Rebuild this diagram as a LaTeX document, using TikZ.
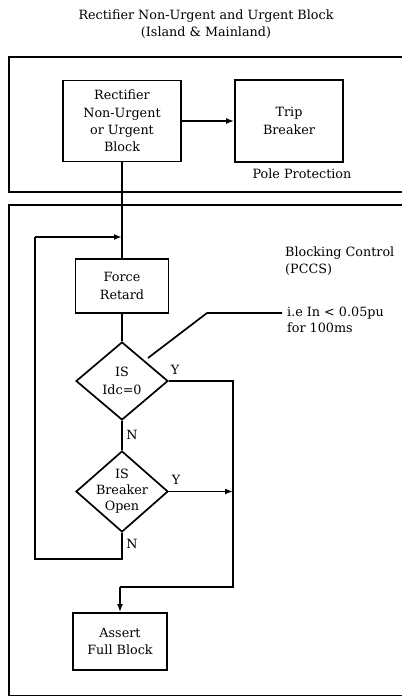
\documentclass[tikz,border=0pt]{standalone}
\usepackage{fontspec}
\setmainfont{DejaVu Serif}
\usetikzlibrary{shapes.geometric,arrows.meta}
\tikzset{
  box/.style={draw, line width=1.7bp, rectangle, align=center, inner sep=0pt, font=\fontsize{12.8}{17.5}\selectfont},
  dia/.style={draw, line width=1.7bp, diamond, inner sep=0pt},
  txt/.style={align=center, inner sep=0pt, font=\fontsize{12.8}{17.5}\selectfont},
  lbl/.style={inner sep=0pt, font=\fontsize{12.8}{17}\selectfont},
  conn/.style={line width=1.7bp},
  arr/.style={line width=1.7bp, -{Latex[length=8bp,width=6bp]}},
  frame/.style={line width=1.9bp}
}
\begin{document}
\begin{tikzpicture}[x=1bp,y=-1bp]
\useasboundingbox (0,0) rectangle (401,697);
% title
\node[txt, font=\fontsize{12.8}{17}\selectfont] (title) at (206,24) {Rectifier Non-Urgent and Urgent Block\\(Island \& Mainland)};
% frames
\draw[frame] (9,57) rectangle (410,192);
\draw[frame] (9,205) rectangle (410,695.5);
\node[lbl, anchor=center] (pp) at (302,174) {Pole Protection};
\node[lbl, anchor=west, align=left] (bc) at (285,261) {Blocking Control\\(PCCS)};
% boxes
\node[box, minimum width=118bp, minimum height=81bp] (rect) at (122,121) {Rectifier\\Non-Urgent\\or Urgent\\Block};
\node[box, minimum width=108bp, minimum height=82bp] (trip) at (289,121) {Trip\\Breaker};
\node[box, minimum width=93bp, minimum height=54bp] (force) at (122,286) {Force\\Retard};
\node[dia, minimum width=92bp, minimum height=78bp] (d1) at (122,381) {};
\node[txt] (d1t) at (d1) {IS\\Idc=0};
\node[dia, minimum width=92bp, minimum height=81bp] (d2) at (122,491.5) {};
\node[txt, font=\fontsize{12.8}{16}\selectfont] (d2t) at (d2) {IS\\Breaker\\Open};
\node[box, minimum width=94bp, minimum height=57bp] (assert) at (120,641.5) {Assert\\Full Block};
% labels
\node[lbl] (y1) at (175,370) {Y};
\node[lbl] (n1) at (132,435) {N};
\node[lbl] (y2) at (176,480) {Y};
\node[lbl] (n2) at (132,544) {N};
\node[lbl, anchor=west, align=left, font=\fontsize{12.8}{16}\selectfont] (note) at (287,320) {i.e In < 0.05pu\\for 100ms};
% coordinates
\coordinate (j1) at (122,237);
\coordinate (ylineR) at (233,381);
\coordinate (ylineB) at (233,587);
\coordinate (ylineL) at (120,587);
\coordinate (y2end) at (233,491.5);
\coordinate (loopB) at (122,559);
\coordinate (loopBL) at (35,559);
\coordinate (loopTL) at (35,237);
\coordinate (n0) at (148,358);
\coordinate (n1c) at (207,313);
\coordinate (n2c) at (282,313);
% connectors
\draw[arr] (rect.east) -- (trip.west);
\draw[conn] (rect.south) -- (force.north);
\draw[conn] (force.south) -- (d1.north);
\draw[conn] (d1.south) -- (d2.north);
\draw[conn] (d1.east) -- (ylineR) -- (ylineB) -- (ylineL);
\draw[arr] (ylineL) -- (assert.north);
\draw[arr] (d2.east) -- (y2end);
\draw[conn] (d2.south) -- (loopB) -- (loopBL) -- (loopTL);
\draw[arr] (loopTL) -- (j1);
\draw[conn] (n0) -- (n1c) -- (n2c);
\end{tikzpicture}
\end{document}
